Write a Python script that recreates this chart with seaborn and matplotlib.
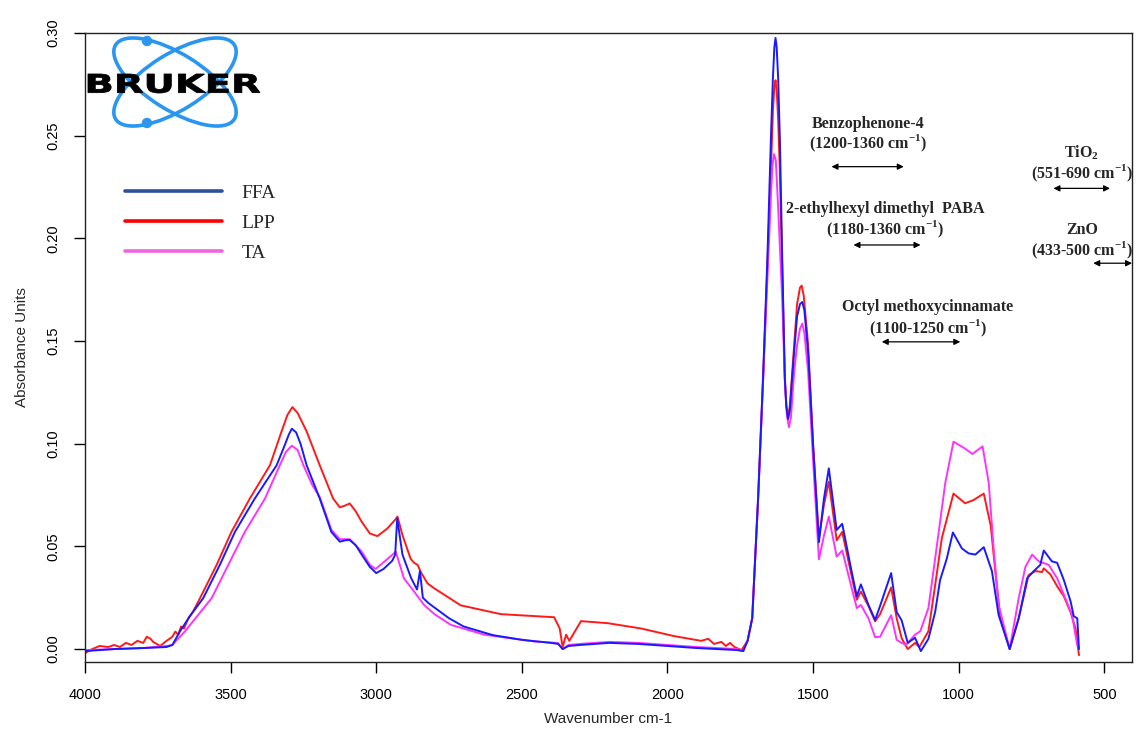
import numpy as np
import pandas as pd
import matplotlib
matplotlib.use('Agg')
import matplotlib.pyplot as plt
import seaborn as sns
from matplotlib.lines import Line2D
from matplotlib.patches import Ellipse, Circle, PathPatch
from matplotlib.textpath import TextPath
from matplotlib.font_manager import FontProperties
from matplotlib.transforms import Affine2D

# FFA spectrum (wavenumber cm-1, absorbance)
ffa_wn = [4000, 3900, 3800, 3720, 3700, 3674, 3640, 3594, 3537, 3485, 3417, 3342, 3315, 3300, 3290,
          3275, 3260, 3239, 3194, 3154, 3125, 3105, 3091, 3070, 3050, 3022, 3000, 2975, 2945, 2935,
          2928, 2910, 2880, 2860, 2850, 2840, 2820, 2750, 2700, 2600, 2500, 2400, 2375, 2360, 2340,
          2300, 2200, 2100, 2000, 1900, 1760, 1740, 1725, 1709, 1689, 1672, 1657, 1645, 1638, 1633,
          1629, 1625, 1620, 1614, 1606, 1597, 1592, 1586, 1580, 1572, 1565, 1555, 1545, 1537, 1530,
          1517, 1500, 1480, 1463, 1446, 1419, 1400, 1368, 1350, 1336, 1310, 1287, 1270, 1232, 1213,
          1196, 1175, 1150, 1130, 1104, 1081, 1064, 1041, 1020, 989, 966, 943, 914, 886, 863, 825,
          794, 765, 742, 720, 708, 680, 662, 639, 616, 605, 593, 587]
ffa_abs = [-0.001, 0.0, 0.0005, 0.001, 0.002, 0.0086, 0.016, 0.0248, 0.041, 0.0571, 0.0733, 0.0895, 0.099, 0.1045, 0.1073,
           0.1055, 0.100, 0.0895, 0.0733, 0.057, 0.0523, 0.053, 0.0531, 0.0505, 0.046, 0.040, 0.037, 0.039, 0.043, 0.046,
           0.0636, 0.046, 0.0345, 0.029, 0.038, 0.025, 0.0223, 0.015, 0.011, 0.0068, 0.0045, 0.003, 0.0025, 0.0, 0.0015,
           0.002, 0.003, 0.0025, 0.0015, 0.0005, -0.0005, -0.001, 0.004, 0.015, 0.073, 0.132, 0.190, 0.248, 0.278, 0.293,
           0.2976, 0.293, 0.278, 0.248, 0.190, 0.132, 0.118, 0.112, 0.116, 0.132, 0.145, 0.162, 0.168, 0.169, 0.165,
           0.1445, 0.099, 0.052, 0.073, 0.088, 0.058, 0.061, 0.038, 0.0257, 0.0315, 0.0215, 0.0142, 0.021, 0.037, 0.018,
           0.014, 0.003, 0.0055, -0.001, 0.005, 0.018, 0.0336, 0.044, 0.0568, 0.049, 0.0466, 0.046, 0.0496, 0.038, 0.0166, 0.0,
           0.015, 0.0345, 0.038, 0.041, 0.048, 0.0427, 0.042, 0.0336, 0.0233, 0.016, 0.015, 0.0]

# LPP spectrum
lpp_wn = [4000, 3975, 3950, 3920, 3900, 3880, 3860, 3840, 3820, 3800, 3788, 3775, 3766, 3742, 3720,
          3700, 3690, 3680, 3670, 3660, 3645, 3630, 3605, 3548, 3497, 3434, 3365, 3325, 3305, 3288,
          3270, 3239, 3194, 3148, 3125, 3105, 3091, 3070, 3050, 3022, 2996, 2962, 2935, 2927, 2910,
          2882, 2870, 2858, 2845, 2824, 2801, 2710, 2572, 2389, 2370, 2360, 2348, 2337, 2297, 2205,
          2090, 1977, 1884, 1860, 1840, 1815, 1800, 1785, 1770, 1746, 1725, 1709, 1689, 1672, 1657,
          1645, 1638, 1633, 1629, 1625, 1620, 1614, 1606, 1597, 1592, 1586, 1580, 1572, 1565, 1555,
          1545, 1539, 1532, 1517, 1500, 1480, 1463, 1446, 1419, 1400, 1368, 1350, 1336, 1310, 1287,
          1270, 1232, 1213, 1196, 1175, 1150, 1135, 1104, 1081, 1058, 1018, 978, 950, 914, 890, 873,
          857, 825, 794, 760, 737, 714, 708, 685, 662, 639, 616, 599, 587]
lpp_abs = [-0.002, 0.0, 0.0015, 0.001, 0.002, 0.001, 0.003, 0.002, 0.004, 0.003, 0.006, 0.005, 0.0035, 0.0015, 0.004,
           0.006, 0.0085, 0.007, 0.011, 0.010, 0.015, 0.018, 0.0248, 0.041, 0.0571, 0.0733, 0.0895, 0.106, 0.114, 0.1178,
           0.115, 0.106, 0.0895, 0.0733, 0.069, 0.070, 0.0709, 0.067, 0.062, 0.0563, 0.055, 0.0587, 0.063, 0.0645, 0.0555,
           0.044, 0.042, 0.041, 0.037, 0.032, 0.0296, 0.0213, 0.017, 0.0155, 0.010, 0.001, 0.007, 0.004, 0.0136, 0.0126,
           0.010, 0.0063, 0.004, 0.005, 0.0025, 0.0035, 0.0015, 0.003, 0.001, -0.0005, 0.004, 0.015, 0.072, 0.130, 0.186,
           0.232, 0.262, 0.274, 0.277, 0.272, 0.258, 0.232, 0.185, 0.132, 0.119, 0.114, 0.118, 0.134, 0.148, 0.168,
           0.176, 0.177, 0.172, 0.148, 0.100, 0.054, 0.070, 0.0815, 0.053, 0.057, 0.036, 0.024, 0.028, 0.021, 0.0135,
           0.017, 0.030, 0.015, 0.0053, 0.0, 0.003, 0.001, 0.0087, 0.031, 0.054, 0.0757, 0.071, 0.0725, 0.0757, 0.060, 0.036,
           0.015, 0.0, 0.015, 0.036, 0.038, 0.0375, 0.0393, 0.0363, 0.0306, 0.0257, 0.018, 0.010, -0.003]

# TA spectrum
ta_wn = [4000, 3900, 3800, 3720, 3700, 3657, 3565, 3508, 3451, 3382, 3331, 3310, 3290, 3270, 3250,
         3220, 3194, 3154, 3125, 3091, 3050, 3022, 3002, 2962, 2933, 2905, 2870, 2836, 2800, 2744,
         2629, 2457, 2377, 2360, 2340, 2300, 2200, 2100, 2000, 1900, 1760, 1740, 1725, 1709, 1689,
         1672, 1657, 1645, 1640, 1634, 1628, 1620, 1606, 1597, 1590, 1583, 1576, 1565, 1555, 1545,
         1537, 1530, 1517, 1500, 1480, 1463, 1446, 1419, 1400, 1368, 1350, 1336, 1310, 1287, 1270,
         1232, 1213, 1196, 1181, 1150, 1132, 1104, 1081, 1046, 1018, 978, 953, 918, 897, 880, 863,
         825, 794, 771, 748, 725, 691, 662, 634, 611, 593]
ta_abs = [-0.0005, 0.0, 0.0005, 0.0015, 0.002, 0.0086, 0.0248, 0.041, 0.0571, 0.0733, 0.0895, 0.096, 0.099, 0.097, 0.0895,
          0.080, 0.074, 0.058, 0.0535, 0.0535, 0.0475, 0.041, 0.039, 0.0438, 0.0474, 0.0345, 0.028, 0.0215, 0.017, 0.0118,
          0.007, 0.0037, 0.003, 0.0, 0.002, 0.0025, 0.0035, 0.003, 0.002, 0.001, 0.0, -0.001, 0.004, 0.015, 0.073,
          0.130, 0.180, 0.220, 0.235, 0.241, 0.238, 0.215, 0.170, 0.130, 0.114, 0.108, 0.113, 0.135, 0.148, 0.156,
          0.1585, 0.154, 0.135, 0.092, 0.0437, 0.055, 0.0645, 0.045, 0.048, 0.030, 0.020, 0.0215, 0.015, 0.0058, 0.006,
          0.0165, 0.0045, 0.003, 0.002, 0.007, 0.0087, 0.020, 0.044, 0.081, 0.101, 0.0976, 0.095, 0.0987, 0.081, 0.049, 0.0215,
          0.0, 0.0248, 0.040, 0.046, 0.0427, 0.041, 0.0345, 0.0248, 0.0167, 0.002]

series_names = ['FFA', 'LPP', 'TA']
line_colors = {'FFA': '#1a1aff', 'LPP': '#ff1a1a', 'TA': '#ff33ff'}
legend_colors = ['#2f4f9a', '#ff0000', '#ee66dd']

df = pd.concat([
    pd.DataFrame({'wn': lpp_wn, 'abs': lpp_abs, 'sample': 'LPP'}),
    pd.DataFrame({'wn': ta_wn, 'abs': ta_abs, 'sample': 'TA'}),
    pd.DataFrame({'wn': ffa_wn, 'abs': ffa_abs, 'sample': 'FFA'}),
], ignore_index=True)

sns.set_theme(style='ticks')
plt.rcParams['font.family'] = ['Liberation Sans', 'DejaVu Sans']
plt.rcParams['mathtext.fontset'] = 'custom'
plt.rcParams['mathtext.rm'] = 'Liberation Serif'
plt.rcParams['mathtext.bf'] = 'Liberation Serif:bold'

W, H = 1136, 735
fig = plt.figure(figsize=(W / 100, H / 100), dpi=100)
ax = fig.add_axes([85 / W, (H - 662) / H, 1047 / W, 629 / H])

for name in ['LPP', 'TA', 'FFA']:
    sub = df[df['sample'] == name]
    sns.lineplot(data=sub, x='wn', y='abs', sort=False, estimator=None,
                 color=line_colors[name], lw=1.4, ax=ax, legend=False)

ax.set_xlim(4000, 405)
ax.set_ylim(-0.0063, 0.30)
ax.set_xticks([4000, 3500, 3000, 2500, 2000, 1500, 1000, 500])
ax.set_yticks([0.0, 0.05, 0.10, 0.15, 0.20, 0.25, 0.30])
ax.set_yticklabels(['%.2f' % v for v in ax.get_yticks()], rotation=90, va='center')
ax.tick_params(axis='both', direction='out', length=8, width=1, colors='black', labelsize=10.5)
ax.tick_params(axis='x', pad=11)
ax.tick_params(axis='y', pad=10)
for s in ax.spines.values():
    s.set_color('#222222')
    s.set_linewidth(1.0)
ax.set_xlabel('Wavenumber cm-1', fontsize=11, labelpad=7)
ax.set_ylabel('Absorbance Units', fontsize=11, labelpad=12)

# legend
handles = [Line2D([0], [0], color=c, lw=2.6) for c in legend_colors]
leg = ax.legend(handles, series_names, loc='upper left', bbox_to_anchor=(0.038, 0.760),
                frameon=False, borderaxespad=0, borderpad=0, handlelength=5.0,
                handletextpad=1.0, labelspacing=0.65,
                prop={'family': 'Liberation Serif', 'size': 14})

# annotations
serif = {'family': 'Liberation Serif', 'weight': 'bold', 'size': 11.5}
labels = [
    ('Benzophenone-4', 0.748, 0.855),
    ('(1200-1360 cm$^{\\mathbf{-1}}$)', 0.748, 0.825),
    ('TiO$_{\\mathbf{2}}$', 0.952, 0.809),
    ('(551-690 cm$^{\\mathbf{-1}}$)', 0.952, 0.777),
    ('2-ethylhexyl dimethyl  PABA', 0.764, 0.720),
    ('(1180-1360 cm$^{\\mathbf{-1}}$)', 0.764, 0.688),
    ('ZnO', 0.952, 0.687),
    ('(433-500 cm$^{\\mathbf{-1}}$)', 0.952, 0.655),
    ('Octyl methoxycinnamate', 0.805, 0.564),
    ('(1100-1250 cm$^{\\mathbf{-1}}$)', 0.805, 0.531),
]
for txt, fx, fy in labels:
    ax.text(fx, fy, txt, transform=ax.transAxes, ha='center', va='center',
            fontdict=serif, clip_on=False)

arrows = [(0.713, 0.782, 0.7875), (0.925, 0.979, 0.753), (0.734, 0.798, 0.663),
          (0.963, 1.0, 0.634), (0.761, 0.836, 0.509)]
for x0, x1, fy in arrows:
    ax.annotate('', xy=(x1, fy), xytext=(x0, fy), xycoords='axes fraction',
                arrowprops=dict(arrowstyle='<|-|>', color='black', lw=0.9,
                                mutation_scale=9, shrinkA=0, shrinkB=0))

# Bruker logo
lx0, ly0, lw_, lh_ = 85, 35, 180, 95
lax = fig.add_axes([lx0 / W, (H - ly0 - lh_) / H, lw_ / W, lh_ / H])
lax.set_xlim(0, lw_)
lax.set_ylim(0, lh_)
lax.axis('off')
blue = '#2a96f0'
for ang in (32, -32):
    lax.add_patch(Ellipse((90, 48), 140, 56, angle=ang, fill=False, ec=blue, lw=2.6))
lax.add_patch(Circle((62, 89), 4.5, color=blue))
lax.add_patch(Circle((62, 7), 4.5, color=blue))
tp = TextPath((0, 0), 'BRUKER', size=20, prop=FontProperties(family='DejaVu Sans', weight='bold'))
ext = tp.get_extents()
sx = 172 / ext.width
sy = 19 / ext.height
tr = Affine2D().translate(-ext.x0, -ext.y0).scale(sx, sy).translate(3, 37)
lax.add_patch(PathPatch(tr.transform_path(tp), color='black', lw=0.6))

fig.savefig('out.png', dpi=100)
